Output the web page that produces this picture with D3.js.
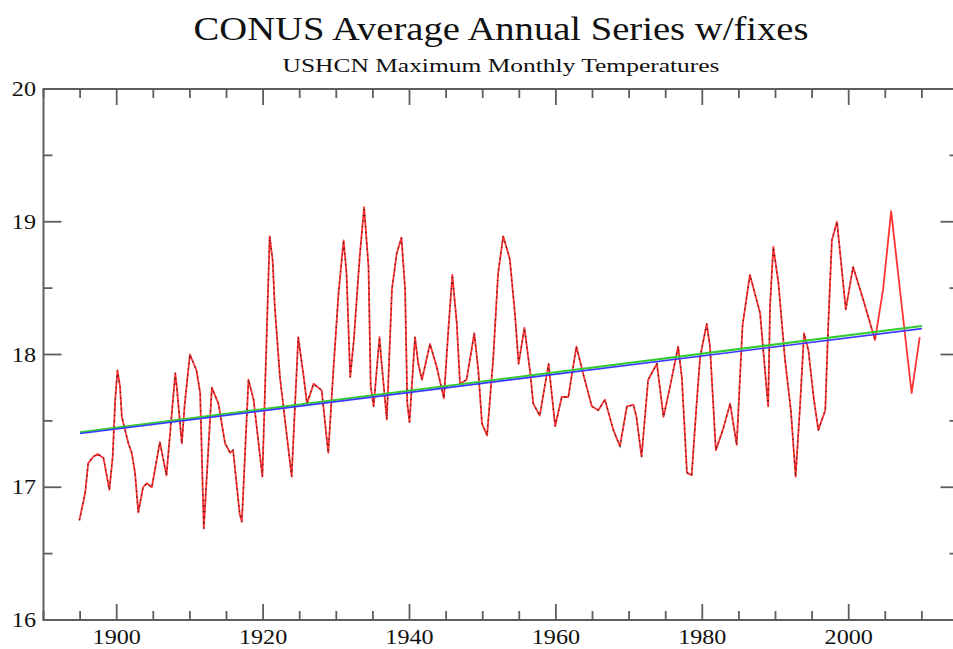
<!DOCTYPE html>
<html><head><meta charset="utf-8">
<script src="https://cdn.jsdelivr.net/npm/d3@7"></script>
<style>
html,body{margin:0;padding:0;background:#fff;}
svg{display:block;}
text{font-family:"Liberation Serif","Times New Roman",serif;fill:#111;}
</style></head>
<body>
<script>
// ---- data ----
const titleText = "CONUS Average Annual Series w/fixes";
const subtitleText = "USHCN Maximum Monthly Temperatures";
const xTickMajor = [1900, 1920, 1940, 1960, 1980, 2000];
const yTickMajor = [16, 17, 18, 19, 20];
const seriesTime = [
 1894.9,1895.7,1896.1,1896.8,1897.4,1898.2,1899.0,1899.45,1899.8,1900.1,1900.45,1900.7,
 1901.6,1902.05,1902.5,1902.95,1903.6,1904.1,1904.8,1905.9,1906.8,1908.0,1908.2,1908.9,
 1909.3,1910.0,1910.9,1911.4,1911.9,1913.0,1913.9,1914.8,1915.5,1915.9,1916.8,1917.1,
 1918.0,1918.7,1919.9,1920.9,1921.3,1921.6,1922.3,1923.9,1924.8,1925.5,1926.0,1926.9,
 1928.0,1928.9,1929.6,1930.3,1931.0,1931.4,1931.9,1932.4,1933.2,1933.8,1934.4,1934.7,
 1935.1,1935.9,1936.2,1936.9,1937.6,1938.25,1938.9,1939.4,1939.7,1940.0,1940.75,1941.2,
 1941.7,1942.8,1943.7,1944.7,1945.3,1945.85,1946.45,1946.9,1947.8,1948.85,1949.4,1949.9,
 1950.6,1951.45,1952.1,1952.8,1953.7,1954.4,1954.9,1955.7,1956.5,1956.9,1957.8,1959.0,
 1959.9,1960.8,1961.7,1962.8,1963.7,1964.9,1965.8,1966.7,1967.85,1968.75,1969.7,1970.6,
 1971.0,1971.7,1972.6,1973.8,1974.7,1975.6,1976.7,1977.2,1977.9,1978.55,1979.2,1979.7,
 1980.6,1981.05,1981.85,1982.8,1983.8,1984.7,1985.5,1986.5,1987.9,1988.8,1989.0,1989.25,
 1989.7,1990.4,1991.3,1992.1,1992.75,1993.35,1993.9,1994.5,1995.2,1995.85,1996.8,1997.2,
 1997.7,1998.4,1999.6,2000.6,2002.0,2003.6,2004.7,2005.8,2007.2,2008.6,2009.7
];
const seriesValue = [
 16.75,16.96,17.18,17.23,17.25,17.22,16.98,17.23,17.66,17.88,17.76,17.53,
 17.33,17.26,17.11,16.81,17.00,17.03,17.00,17.34,17.09,17.86,17.76,17.33,
 17.63,18.00,17.88,17.71,16.69,17.75,17.63,17.33,17.26,17.28,16.80,16.74,
 17.81,17.66,17.08,18.89,18.71,18.36,17.83,17.08,18.13,17.85,17.63,17.78,
 17.73,17.26,17.88,18.46,18.86,18.61,17.83,18.11,18.74,19.11,18.66,17.76,
 17.61,18.13,17.93,17.51,18.49,18.76,18.88,18.49,17.63,17.49,18.13,17.93,
 17.81,18.08,17.91,17.67,18.18,18.60,18.24,17.78,17.81,18.16,17.88,17.48,
 17.39,17.98,18.61,18.89,18.72,18.31,17.93,18.20,17.86,17.63,17.54,17.93,
 17.46,17.68,17.68,18.06,17.86,17.61,17.58,17.66,17.43,17.31,17.61,17.62,
 17.53,17.23,17.81,17.93,17.53,17.76,18.06,17.83,17.11,17.09,17.61,17.98,
 18.23,18.06,17.28,17.43,17.63,17.32,18.22,18.60,18.31,17.73,17.61,18.36,
 18.81,18.54,17.96,17.58,17.08,17.61,18.16,18.03,17.68,17.43,17.58,18.21,
 18.86,19.00,18.34,18.66,18.41,18.11,18.49,19.08,18.39,17.71,18.13
];
const dottedEndYear = 2004.0;
const trendYears = [1895, 2010];
const trendGreen = [17.415, 18.215];
const trendBlue = [17.405, 18.195];

// ---- layout ----
const W = 953, H = 649;
const L = 43.5, R = 958.5, T = 89, B = 620;
const svg = d3.select("body").append("svg").attr("width", W).attr("height", H);
const x = d3.scaleLinear().domain([1890, 2015]).range([L, R]);
const y = d3.scaleLinear().domain([16, 20]).range([B, T]);

const axisCol = "#5e5e5e";
const xMinor = d3.range(1890, 2016, 5);
const yMinor = d3.range(16, 20.01, 0.5);

// ticks
const tg = svg.append("g").attr("stroke", axisCol).attr("stroke-width", 1.8);
xMinor.forEach(v => {
  const len = xTickMajor.includes(v) ? 16 : 9;
  tg.append("line").attr("x1", x(v)).attr("x2", x(v)).attr("y1", B).attr("y2", B - len);
  tg.append("line").attr("x1", x(v)).attr("x2", x(v)).attr("y1", T).attr("y2", T + len);
});
yMinor.forEach(v => {
  const len = yTickMajor.includes(v) ? 18 : 9;
  tg.append("line").attr("y1", y(v)).attr("y2", y(v)).attr("x1", L).attr("x2", L + len);
  tg.append("line").attr("y1", y(v)).attr("y2", y(v)).attr("x1", R).attr("x2", R - len);
});
svg.append("rect").attr("x", L).attr("y", T).attr("width", R - L).attr("height", B - T)
  .attr("fill", "none").attr("stroke", axisCol).attr("stroke-width", 2);

// labels
const stretch = 1.15;
xTickMajor.forEach(v => {
  svg.append("text").attr("transform", `translate(${x(v)},644) scale(${stretch},1)`)
    .attr("text-anchor", "middle").attr("font-size", 21).text(v);
});
yTickMajor.forEach(v => {
  svg.append("text").attr("transform", `translate(36,${y(v) + 7}) scale(${stretch},1)`)
    .attr("text-anchor", "end").attr("font-size", 21).text(v);
});

// title
svg.append("text").attr("x", 501).attr("y", 40).attr("text-anchor", "middle")
  .attr("font-size", 33).attr("textLength", 615).attr("lengthAdjust", "spacingAndGlyphs").text(titleText);
svg.append("text").attr("x", 501).attr("y", 72).attr("text-anchor", "middle")
  .attr("font-size", 19).attr("textLength", 437).attr("lengthAdjust", "spacingAndGlyphs").text(subtitleText);

// series
const pts = seriesTime.map((t, i) => [t, seriesValue[i]]);
const line = d3.line().x(d => x(d[0])).y(d => y(d[1]));
const plot = svg.append("g");
plot.append("path").attr("d", line(pts)).attr("fill", "none")
  .attr("stroke", "#ff3333").attr("stroke-width", 1.8).attr("stroke-linejoin", "round");
plot.append("path").attr("d", line(pts.filter(d => d[0] <= dottedEndYear))).attr("fill", "none")
  .attr("stroke", "#111").attr("stroke-width", 1.4).attr("stroke-dasharray", "1.4 4.2").attr("opacity", 0.7);

const trendG = trendYears.map((t, i) => [t, trendGreen[i]]);
const trendB = trendYears.map((t, i) => [t, trendBlue[i]]);
plot.append("path").attr("d", line(trendG)).attr("fill", "none").attr("stroke", "#33cc33").attr("stroke-width", 2);
plot.append("path").attr("d", line(trendB)).attr("fill", "none").attr("stroke", "#3a3aff").attr("stroke-width", 1.6);
</script>
</body></html>
